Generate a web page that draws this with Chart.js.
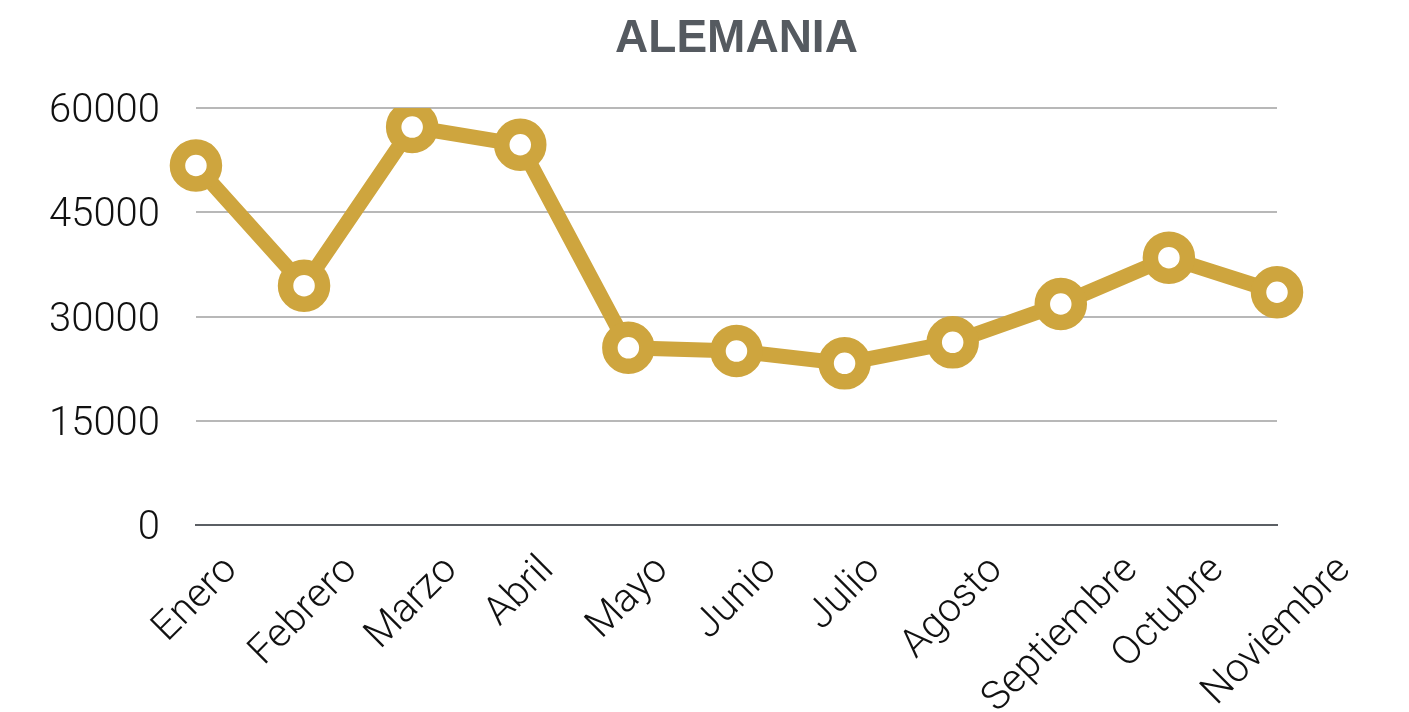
<!DOCTYPE html>
<html>
<head>
<meta charset="utf-8">
<script src="https://cdn.jsdelivr.net/npm/chart.js@4"></script>
<style>
  html, body { margin: 0; padding: 0; background: #fff; }
  #wrap { width: 1409px; height: 712px; }
</style>
</head>
<body>
<div id="wrap"><canvas id="lineChart"></canvas></div>
<script>
// DATA
const meses = ["Enero", "Febrero", "Marzo", "Abril", "Mayo", "Junio", "Julio", "Agosto", "Septiembre", "Octubre", "Noviembre"];
const alemania = [51730, 34440, 57260, 54710, 25500, 25030, 23260, 26280, 31800, 38470, 33490];
const yTicks = [0, 15000, 30000, 45000, 60000];

const gold = "#cea53e";
const fontFamily = "Roboto, 'Liberation Sans', sans-serif";
const tickFont = { family: fontFamily, size: 40, weight: "300" };

// rotated month labels, centred on each tick (Excel style)
const monthLabels = {
  id: "monthLabels",
  afterDraw(chart) {
    const xs = chart.scales.x;
    const ctx = chart.ctx;
    ctx.save();
    ctx.font = "300 40px " + fontFamily;
    ctx.fillStyle = "#111";
    ctx.textAlign = "center";
    ctx.textBaseline = "middle";
    xs.ticks.forEach((t, i) => {
      const label = xs.getLabelForValue(t.value);
      const w = ctx.measureText(label).width;
      const px = xs.getPixelForTick(i);
      const py = xs.top + 39 + (w / 2) * Math.SQRT1_2;
      ctx.save();
      ctx.translate(px, py);
      ctx.rotate(-Math.PI / 4);
      ctx.fillText(label, 0, 0);
      ctx.restore();
    });
    ctx.restore();
  }
};

// LINE CHART
new Chart(document.getElementById("lineChart"), {
  type: "line",
  data: {
    labels: meses,
    datasets: [{
      label: "Alemania",
      data: alemania,
      borderColor: gold,
      borderWidth: 15,
      tension: 0,
      pointRadius: 18.5,
      pointHoverRadius: 18.5,
      pointBorderWidth: 15.5,
      pointBackgroundColor: "#fff",
      pointBorderColor: gold
    }]
  },
  options: {
    responsive: true,
    maintainAspectRatio: false,
    animation: false,
    layout: { padding: { left: 13, right: 132, top: 0, bottom: 0 } },
    plugins: {
      legend: { display: false },
      tooltip: { enabled: false },
      title: {
        display: true,
        fullSize: false,
        text: "ALEMANIA",
        color: "#555a60",
        font: { family: "'Liberation Sans', Arial, sans-serif", size: 46, weight: "bold" },
        padding: { top: 12, bottom: 40.8 }
      }
    },
    scales: {
      x: {
        grid: { display: false, drawTicks: false },
        border: { display: true, color: "#5b5f64", width: 2 },
        afterFit: (scale) => { scale.height = 187; },
        ticks: { display: false, autoSkip: false }
      },
      y: {
        min: 0,
        max: 60000,
        afterBuildTicks: (scale) => { scale.ticks = yTicks.map(v => ({ value: v })); },
        grid: { color: "#b8b8b8", lineWidth: 2, drawTicks: false },
        border: { display: false },
        ticks: {
          color: "#111",
          font: tickFont,
          padding: 36,
          labelOffset: 4,
          callback: (v) => String(v)
        }
      }
    }
  },
  plugins: [monthLabels]
});
</script>
</body>
</html>
